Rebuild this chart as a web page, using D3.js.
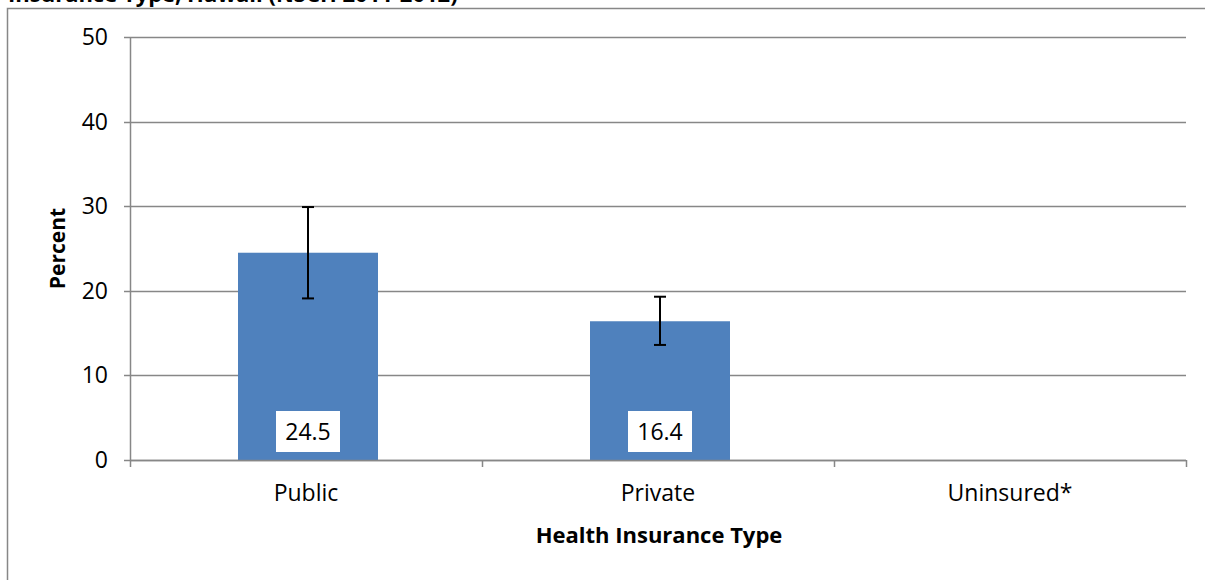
<!DOCTYPE html>
<html>
<head>
<meta charset="utf-8">
<script src="https://cdn.jsdelivr.net/npm/d3@7"></script>
<style>
  body { margin: 0; background: #fff; }
  svg { display: block; font-family: "Open Sans", "Noto Sans", sans-serif; }
</style>
</head>
<body>
<div id="chart"></div>
<script>
const categories = ['Public', 'Private', 'Uninsured*'];
const values = [24.5, 16.4, null];
const ciLow = [19.1, 13.6, null];
const ciHigh = [29.9, 19.3, null];
const yTicks = [0, 10, 20, 30, 40, 50];

const width = 1205;
const height = 580;
const margin = { top: 37, right: 19, bottom: 120, left: 130 };
const barColor = '#4F81BD';
const gridColor = '#878787';

const svg = d3.select('#chart')
	.append('svg')
	.attr('width', width)
	.attr('height', height);

// outer frame (cut off at the bottom and right)
svg.append('path')
	.attr('d', 'M7.5,' + height + ' V8.5 H' + width)
	.attr('fill', 'none')
	.attr('stroke', gridColor)
	.attr('stroke-width', 1.5);

// title, mostly cropped like in the source image
svg.append('text')
	.attr('x', 8)
	.attr('y', 2)
	.style('font-size', '22px')
	.style('font-weight', 'bold')
	.text('Insurance Type, Hawaii (NSCH 2011-2012)');

const x = d3.scaleBand()
	.domain(categories)
	.range([margin.left, width - margin.right])
	.paddingInner(0)
	.paddingOuter(0);

const y = d3.scaleLinear()
	.domain([0, 50])
	.range([height - margin.bottom, margin.top]);

// gridlines
svg.append('g')
	.selectAll('line')
	.data(yTicks)
	.enter()
	.append('line')
	.attr('x1', margin.left - 6)
	.attr('x2', width - margin.right)
	.attr('y1', d => Math.round(y(d)) + 0.5)
	.attr('y2', d => Math.round(y(d)) + 0.5)
	.attr('stroke', gridColor)
	.attr('stroke-width', 1.5);

// y axis line
svg.append('line')
	.attr('x1', margin.left + 0.5)
	.attr('x2', margin.left + 0.5)
	.attr('y1', y(50))
	.attr('y2', y(0))
	.attr('stroke', gridColor)
	.attr('stroke-width', 1.5);

// y tick labels
svg.append('g')
	.selectAll('text')
	.data(yTicks)
	.enter()
	.append('text')
	.attr('x', 108)
	.attr('y', d => y(d))
	.attr('dy', '0.35em')
	.attr('text-anchor', 'end')
	.style('font-size', '23px')
	.text(d => d);

// x category boundary ticks
const bounds = categories.map(c => x(c)).concat([x(categories[categories.length - 1]) + x.bandwidth()]);
svg.append('g')
	.selectAll('line')
	.data(bounds)
	.enter()
	.append('line')
	.attr('x1', d => Math.round(d) + 0.5)
	.attr('x2', d => Math.round(d) + 0.5)
	.attr('y1', y(0))
	.attr('y2', y(0) + 7)
	.attr('stroke', gridColor)
	.attr('stroke-width', 1.5);

// bars
const barW = 140;
const data = categories.map((c, i) => ({ name: c, value: values[i], lo: ciLow[i], hi: ciHigh[i] }))
	.filter(d => d.value != null);

svg.append('g')
	.selectAll('rect')
	.data(data)
	.enter()
	.append('rect')
	.attr('x', d => x(d.name) + x.bandwidth() / 2 - barW / 2 + 2)
	.attr('y', d => y(d.value))
	.attr('width', barW)
	.attr('height', d => y(0) - y(d.value))
	.attr('fill', barColor);

// redraw baseline over bars
svg.append('line')
	.attr('x1', margin.left)
	.attr('x2', width - margin.right)
	.attr('y1', Math.round(y(0)) + 0.5)
	.attr('y2', Math.round(y(0)) + 0.5)
	.attr('stroke', gridColor)
	.attr('stroke-width', 1.5);

// error bars
const eb = svg.append('g')
	.selectAll('g')
	.data(data)
	.enter()
	.append('g')
	.attr('stroke', '#000')
	.attr('stroke-width', 2);
const cx = d => x(d.name) + x.bandwidth() / 2 + 2;
eb.append('line')
	.attr('x1', cx).attr('x2', cx)
	.attr('y1', d => y(d.hi)).attr('y2', d => y(d.lo));
eb.append('line')
	.attr('x1', d => cx(d) - 6).attr('x2', d => cx(d) + 6)
	.attr('y1', d => y(d.hi)).attr('y2', d => y(d.hi));
eb.append('line')
	.attr('x1', d => cx(d) - 6).attr('x2', d => cx(d) + 6)
	.attr('y1', d => y(d.lo)).attr('y2', d => y(d.lo));

// value labels in white boxes
const lab = svg.append('g')
	.selectAll('g')
	.data(data)
	.enter()
	.append('g');
lab.append('rect')
	.attr('x', d => cx(d) - 32)
	.attr('y', y(0) - 49)
	.attr('width', 64)
	.attr('height', 41)
	.attr('fill', '#fff');
lab.append('text')
	.attr('x', cx)
	.attr('y', y(0) - 28)
	.attr('dy', '0.35em')
	.attr('text-anchor', 'middle')
	.style('font-size', '23px')
	.text(d => d.value.toFixed(1));

// category labels
svg.append('g')
	.selectAll('text')
	.data(categories)
	.enter()
	.append('text')
	.attr('x', d => x(d) + x.bandwidth() / 2)
	.attr('y', 493)
	.attr('dy', '0.35em')
	.attr('text-anchor', 'middle')
	.style('font-size', '23px')
	.text(d => d);

// axis titles
svg.append('text')
	.attr('x', 659)
	.attr('y', 535)
	.attr('dy', '0.35em')
	.attr('text-anchor', 'middle')
	.style('font-size', '22px')
	.style('font-weight', 'bold')
	.text('Health Insurance Type');

svg.append('text')
	.attr('transform', 'translate(58,' + y(25) + ') rotate(-90)')
	.attr('dy', '0.35em')
	.attr('text-anchor', 'middle')
	.style('font-size', '21px')
	.style('font-weight', 'bold')
	.text('Percent');
</script>
</body>
</html>
